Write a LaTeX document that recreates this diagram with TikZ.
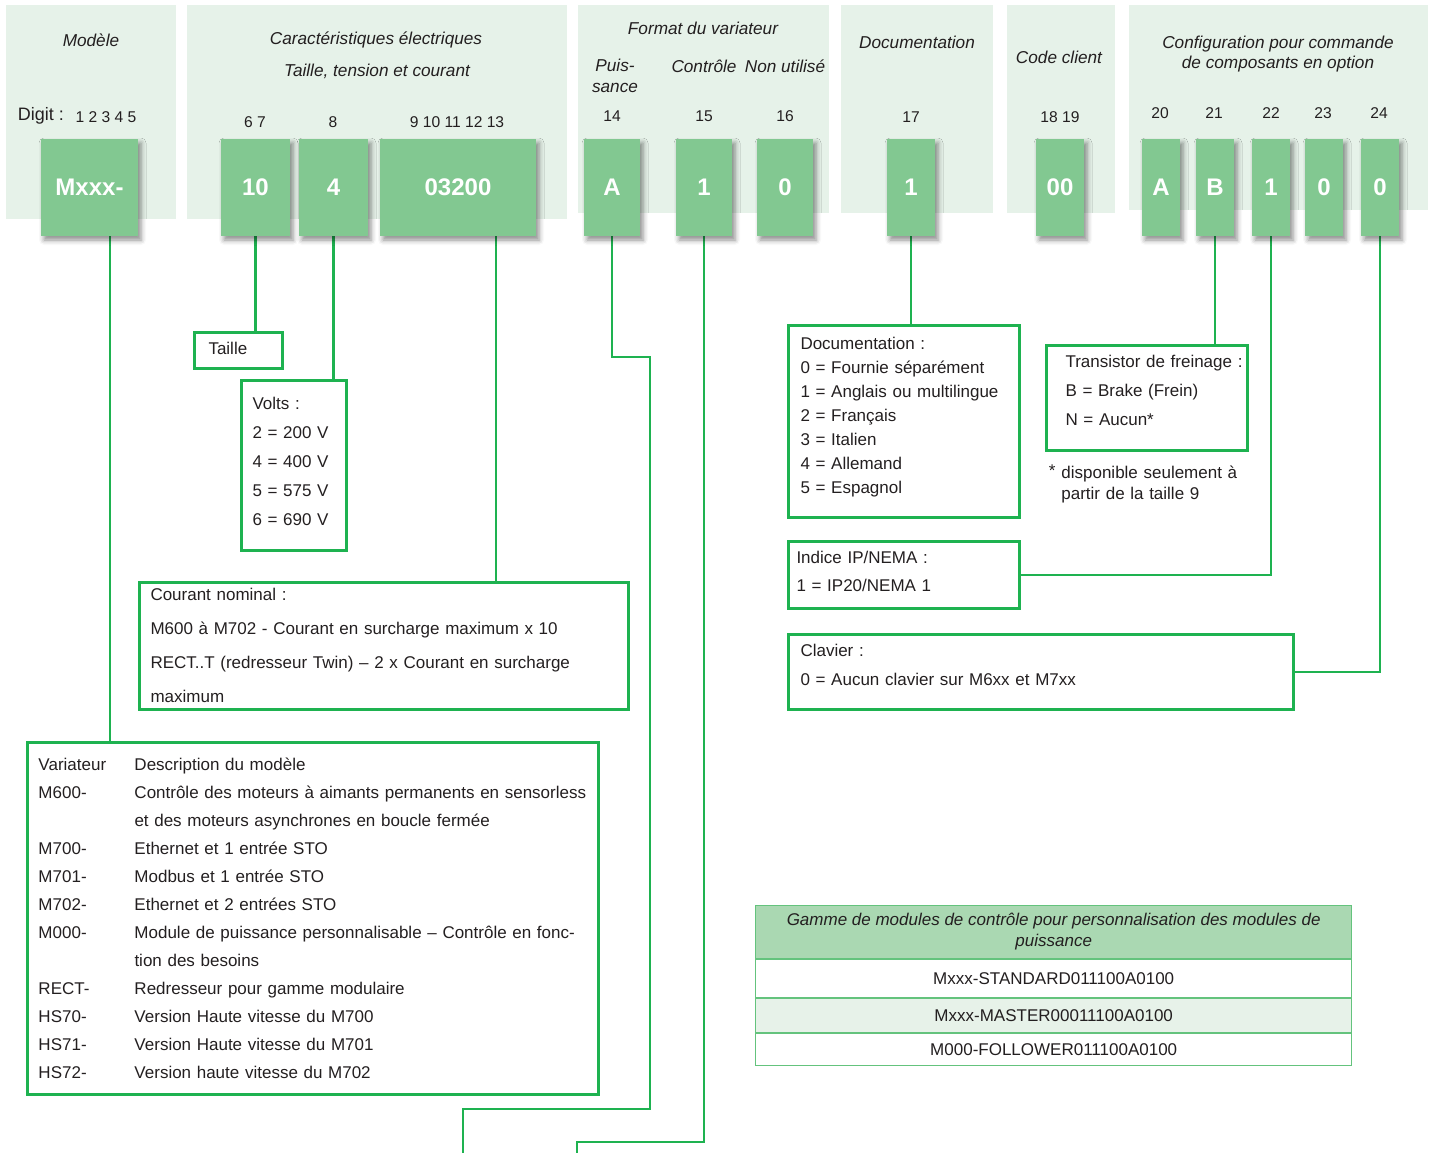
\documentclass[tikz,border=0pt]{standalone}
\usepackage{fontspec}
\setmainfont{Liberation Sans}
\usepackage{tikz}
\usetikzlibrary{
    shadows,
    shadows.blur,
    backgrounds,
    positioning,
}
\definecolor{lineGreen}{RGB}{30,178,80}
\definecolor{boxGreen}{RGB}{130,200,145}
\definecolor{panelGreen}{RGB}{230,242,233}
\definecolor{headGreen}{RGB}{170,216,178}
\definecolor{rowGreen}{RGB}{231,242,233}
\definecolor{tableGreen}{RGB}{100,195,125}
\definecolor{textGray}{RGB}{35,31,32}

\begin{document}
\begin{tikzpicture}[x=0.5pt,y=-0.5pt,every node/.append style={text=textGray}]

    \tikzstyle{panel}=[rectangle, fill=panelGreen, anchor=north west, inner sep=0pt]
    \tikzstyle{digit}=[rectangle, fill=boxGreen, text=white, font=\bfseries\fontsize{12}{14}\selectfont, minimum height=48.5pt, inner sep=0pt, blur shadow={shadow xshift=1.5pt, shadow yshift=-2pt, shadow blur radius=2.5pt, shadow opacity=45}]
    \tikzstyle{heading}=[font=\itshape\fontsize{8.6}{10}\selectfont, align=center, inner sep=0pt]
    \tikzstyle{num}=[font=\fontsize{7.8}{9}\selectfont, inner sep=0pt]
    \tikzstyle{info}=[rectangle, draw=lineGreen, line width=1.5pt, anchor=north west, align=left, inner ysep=0pt]
    \tikzstyle{link}=[draw=lineGreen, line width=1.3pt]
    \tikzstyle{tableRow}=[rectangle, draw=tableGreen, line width=0.7pt, minimum width=298pt, inner sep=0pt, font=\fontsize{8.5}{10.5}\selectfont, align=center]

    \def\varRow#1#2{\makebox[48pt][l]{#1}\mbox{#2}}

    \useasboundingbox (0,0) rectangle (1434,1152);

    % Panels
    \node at (6,5)    [panel, minimum width=85pt,    minimum height=107pt]   (pModele)  {};
    \node at (187,5)  [panel, minimum width=190pt,   minimum height=107pt]   (pCarac)   {};
    \node at (578,5)  [panel, minimum width=125.5pt, minimum height=104pt]   (pFormat)  {};
    \node at (841,5)  [panel, minimum width=76pt,    minimum height=104pt]   (pDoc)     {};
    \node at (1007,5) [panel, minimum width=54pt,    minimum height=104pt]   (pClient)  {};
    \node at (1129,5) [panel, minimum width=149.5pt, minimum height=102.5pt] (pConfig)  {};

    % Panel titles
    \node at (91,40)    [heading] (tModele)  {Modèle};
    \node at (376,40)   [heading] (tCarac)   {Caractéristiques électriques};
    \node at (377,71)   [heading] (tTaille)  {Taille, tension et courant};
    \node at (703,28)   [heading] (tFormat)  {Format du variateur};
    \node at (615,76)   [heading, font=\itshape\fontsize{8.6}{10.5}\selectfont] (tPuis) {Puis-\\sance};
    \node at (704,66)   [heading] (tCtrl)    {Contrôle};
    \node at (785,66)   [heading] (tNon)     {Non utilisé};
    \node at (917,42)   [heading] (tDoc)     {Documentation};
    \node at (1059,57)  [heading] (tClient)  {Code client};
    \node at (1278,54)  [heading] (tConfig)  {Configuration pour commande\\de composants en option};

    % Digit numbers
    \node at (41,116)   [num, font=\fontsize{9}{10}\selectfont] (nDigit) {Digit :};
    \node at (106,117)  [num] (n1)  {1 2 3 4 5};
    \node at (255,122)  [num] (n6)  {6 7};
    \node at (333,122)  [num] (n8)  {8};
    \node at (457,122)  [num] (n9)  {9 10 11 12 13};
    \node at (612,116)  [num] (n14) {14};
    \node at (704,116)  [num] (n15) {15};
    \node at (785,116)  [num] (n16) {16};
    \node at (911,117)  [num] (n17) {17};
    \node at (1060,117) [num] (n18) {18 19};
    \node at (1160,113) [num] (n20) {20};
    \node at (1214,113) [num] (n21) {21};
    \node at (1271,113) [num] (n22) {22};
    \node at (1323,113) [num] (n23) {23};
    \node at (1379,113) [num] (n24) {24};

    % Digit boxes
    \node at (89.5,187.5) [digit, minimum width=48.5pt] (bM)  {Mxxx-};
    \node at (255.5,187.5)[digit, minimum width=34.5pt] (b6)  {10};
    \node at (333.5,187.5)[digit, minimum width=34.5pt] (b8)  {4};
    \node at (458,187.5)  [digit, minimum width=78pt]   (b9)  {03200};
    \node at (612,187.5)  [digit, minimum width=28pt]   (b14) {A};
    \node at (704,187.5)  [digit, minimum width=28pt]   (b15) {1};
    \node at (785,187.5)  [digit, minimum width=28pt]   (b16) {0};
    \node at (911,187.5)  [digit, minimum width=24pt]   (b17) {1};
    \node at (1060,187.5) [digit, minimum width=24pt]   (b18) {00};
    \node at (1161,187.5) [digit, minimum width=19pt]   (b20) {A};
    \node at (1215,187.5) [digit, minimum width=19pt]   (b21) {B};
    \node at (1271,187.5) [digit, minimum width=19pt]   (b22) {1};
    \node at (1324,187.5) [digit, minimum width=19pt]   (b23) {0};
    \node at (1380,187.5) [digit, minimum width=19pt]   (b24) {0};

    % Description boxes
    \node at (193,331) [info, inner xsep=7pt, text width=30pt, text height=11pt, text depth=7pt,
        font=\fontsize{8.5}{14.5}\selectfont] (tailBox) {Taille};
    \node at (240,379) [info, inner xsep=5.5pt, text width=41.5pt, text height=14.5pt, text depth=70.5pt,
        font=\fontsize{8.5}{14.5}\selectfont] (voltBox)
        {Volts :\\2 = 200 V\\4 = 400 V\\5 = 575 V\\6 = 690 V};
    \node at (138,581) [info, inner xsep=5.5pt, text width=233.5pt, text height=9pt, text depth=54.5pt,
        font=\fontsize{8.5}{17}\selectfont] (courBox)
        {Courant nominal :\\M600 à M702 - Courant en surcharge maximum x 10\\
         \mbox{RECT..T (redresseur Twin) -- 2 x Courant en surcharge}\\maximum};
    \node at (26,741) [info, inner xsep=5.5pt, text width=274.5pt, text height=14pt, text depth=162pt,
        font=\fontsize{8.5}{14}\selectfont] (varBox)
        {\varRow{Variateur}{Description du modèle}\\
         \varRow{M600-}{Contrôle des moteurs à aimants permanents en sensorless}\\
         \varRow{}{et des moteurs asynchrones en boucle fermée}\\
         \varRow{M700-}{Ethernet et 1 entrée STO}\\
         \varRow{M701-}{Modbus et 1 entrée STO}\\
         \varRow{M702-}{Ethernet et 2 entrées STO}\\
         \varRow{M000-}{Module de puissance personnalisable -- Contrôle en fonc-}\\
         \varRow{}{tion des besoins}\\
         \varRow{RECT-}{Redresseur pour gamme modulaire}\\
         \varRow{HS70-}{Version Haute vitesse du M700}\\
         \varRow{HS71-}{Version Haute vitesse du M701}\\
         \varRow{HS72-}{Version haute vitesse du M702}};
    \node at (787,324) [info, inner xsep=6pt, text width=103.5pt, text height=12pt, text depth=84pt,
        font=\fontsize{8.5}{12}\selectfont] (docBox)
        {Documentation :\\\mbox{0 = Fournie séparément}\\\mbox{1 = Anglais ou multilingue}\\
         2 = Français\\3 = Italien\\4 = Allemand\\5 = Espagnol};
    \node at (1045,344) [info, inner xsep=9.5pt, text width=81.5pt, text height=11pt, text depth=41.5pt,
        font=\fontsize{8.5}{14.5}\selectfont] (brakeBox)
        {\mbox{Transistor de freinage :}\\B = Brake (Frein)\\N = Aucun*};
    \node at (1061,463) [anchor=north west, inner sep=0pt, text width=100pt, align=left, text height=7.5pt,
        font=\fontsize{8.5}{10.5}\selectfont] (brakeNote)
        {\llap{\raisebox{1pt}{*}\hspace{3pt}}disponible seulement à\\partir de la taille 9};
    \node at (787,540) [info, inner xsep=4pt, text width=107.5pt, text height=11pt, text depth=22.5pt,
        font=\fontsize{8.5}{14}\selectfont] (ipBox)
        {Indice IP/NEMA :\\1 = IP20/NEMA 1};
    \node at (787,633) [info, inner xsep=6pt, text width=240.5pt, text height=11pt, text depth=26.5pt,
        font=\fontsize{8.5}{14.5}\selectfont] (clavBox)
        {Clavier :\\0 = Aucun clavier sur M6xx et M7xx};

    % Table
    \node at (755,905) [tableRow, anchor=north west, fill=headGreen, minimum height=26.3pt,
        font=\itshape\fontsize{8.5}{10.5}\selectfont] (tHead)
        {Gamme de modules de contrôle pour personnalisation des modules de\\puissance};
    \node [tableRow, below=0pt of tHead, minimum height=18.8pt] (tRow1) {Mxxx-STANDARD011100A0100};
    \node [tableRow, below=0pt of tRow1, fill=rowGreen, minimum height=16.8pt] (tRow2) {Mxxx-MASTER00011100A0100};
    \node [tableRow, below=0pt of tRow2, minimum height=15.8pt] (tRow3) {M000-FOLLOWER011100A0100};

    % Connectors
    \coordinate (cM) at ([xshift=10.25pt]bM.south);
    \coordinate (c9) at ([xshift=19pt]b9.south);
    \coordinate (end14) at (463,1156);
    \coordinate (end15) at (577,1156);
    \begin{pgfonlayer}{background}
        \draw[link] (cM) -- (cM |- varBox.north);
        \draw[link] (b6.south) -- (b6.south |- tailBox.north);
        \draw[link] (b8.south) -- (b8.south |- voltBox.north);
        \draw[link] (c9) -- (c9 |- courBox.north);
        \draw[link] (b14.south) |- (650,357) |- (463,1109) -- (end14);
        \draw[link] (b15.south) |- (577,1142) -- (end15);
        \draw[link] (b17.south) -- (b17.south |- docBox.north);
        \draw[link] (b21.south) -- (b21.south |- brakeBox.north);
        \draw[link] (b22.south) |- (ipBox.east);
        \draw[link] (b24.south) |- (clavBox.east);
    \end{pgfonlayer}

\end{tikzpicture}
\end{document}
